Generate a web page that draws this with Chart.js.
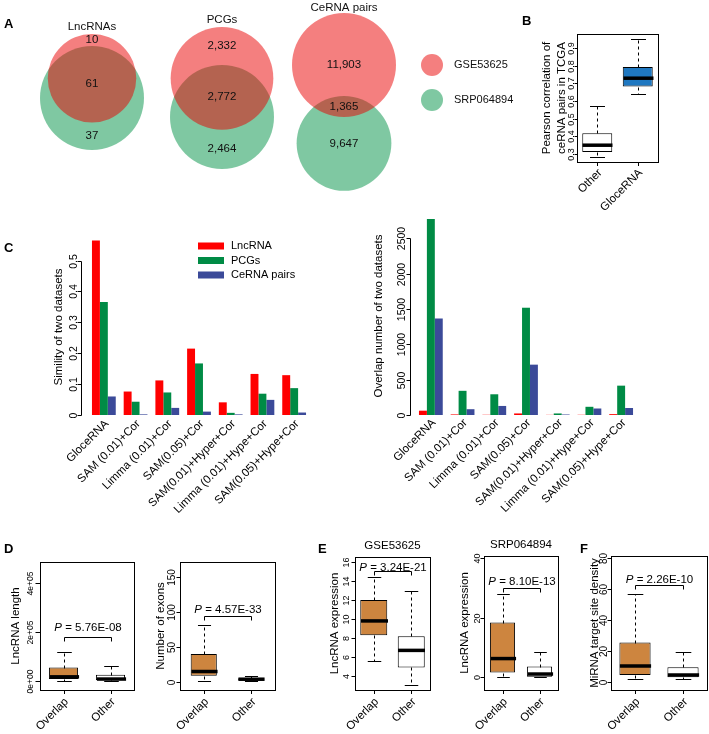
<!DOCTYPE html>
<html>
<head>
<meta charset="utf-8">
<title>GloceRNA overlap figure</title>
<script src="https://cdn.jsdelivr.net/npm/chart.js@4.4.0/dist/chart.umd.min.js"></script>
<style>
  body { margin: 0; background: #fff; }
  #wrap { position: relative; width: 709px; height: 734px; }
  #wrap canvas { position: absolute; left: 0; top: 0; }
</style>
</head>
<body>
<div id="wrap"></div>
<script>
// ---- A: Venn counts (GSE only, shared, SRP only) ----
const vennNames = ['LncRNAs', 'PCGs', 'CeRNA pairs'];
const onlyGSE = [10, 2332, 11903];
const bothSets = [61, 2772, 1365];
const onlySRP = [37, 2464, 9647];
const setNames = ['GSE53625', 'SRP064894'];

// ---- B: correlation of ceRNA pairs in TCGA (min, q1, median, q3, max) ----
const corrGroups = ['Other', 'GloceRNA'];
const corrOther = [0.283, 0.311, 0.350, 0.418, 0.570];
const corrGloce = [0.640, 0.682, 0.729, 0.792, 0.949];
const corrTicks = [0.3, 0.4, 0.5, 0.6, 0.7, 0.8, 0.9];

// ---- C: similarity / overlap of two datasets per method ----
const methods = ['GloceRNA', 'SAM (0.01)+Cor', 'Limma (0.01)+Cor', 'SAM(0.05)+Cor',
  'SAM(0.01)+Hyper+Cor', 'Limma (0.01)+Hype+Cor', 'SAM(0.05)+Hype+Cor'];
const typeNames = ['LncRNA', 'PCGs', 'CeRNA pairs'];
const simLnc = [0.565, 0.076, 0.112, 0.215, 0.041, 0.133, 0.129];
const simPcg = [0.366, 0.043, 0.073, 0.167, 0.007, 0.069, 0.087];
const simPair = [0.060, 0.002, 0.023, 0.011, 0.002, 0.049, 0.008];
const simTicks = [0, 0.1, 0.2, 0.3, 0.4, 0.5];
const ovLnc = [61, 8, 3, 22, 2, 3, 12];
const ovPcg = [2772, 342, 293, 1517, 22, 116, 415];
const ovPair = [1365, 82, 128, 712, 7, 92, 99];
const ovTicks = [0, 500, 1000, 1500, 2000, 2500];

// ---- D, E, F: box summaries (min, q1, median, q3, max) ----
const boxGroups = ['Overlap', 'Other'];
const lenOverlap = [0, 8000, 17000, 55000, 120000];
const lenOther = [0, 4000, 8000, 26000, 60000];
const lenTicks = [0, 200000, 400000];
const exonOverlap = [2, 9, 15, 40, 81];
const exonOther = [1, 2, 4, 5.5, 8];
const exonTicks = [0, 50, 100, 150];
const gseOverlap = [5.6, 8.3, 9.8, 12.0, 14.4];
const gseOther = [3.05, 4.9, 6.7, 8.2, 12.9];
const gseTicks = [4, 6, 8, 10, 12, 14, 16];
const srpOverlap = [0, 1.5, 6.2, 18.3, 27.9];
const srpOther = [0, 0.1, 1.0, 3.5, 8.3];
const srpTicks = [0, 20, 40];
const siteOverlap = [1.7, 4.5, 10.3, 25.4, 56.8];
const siteOther = [1.7, 3.0, 4.5, 9.5, 19.2];
const siteTicks = [0, 20, 40, 60, 80];
const pValues = ['5.76E-08', '4.57E-33', '3.24E-21', '8.10E-13', '2.26E-10'];

const W = 709, H = 734;
const FONT = "'Liberation Sans', Arial, Helvetica, sans-serif";
const wrap = document.getElementById('wrap');

function makeChart(config) {
  const c = document.createElement('canvas');
  c.width = W;
  c.height = H;
  wrap.appendChild(c);
  config.options = Object.assign({responsive: false, animation: false, devicePixelRatio: 1, events: []}, config.options);
  config.options.layout.autoPadding = false;
  config.options.plugins = Object.assign({legend: {display: false}, tooltip: {enabled: false}}, config.options.plugins);
  return new Chart(c, config);
}

// chart area given in page pixels (every canvas covers the whole page)
function area(l, t, r, b) {
  return {left: l, top: t, right: W - r, bottom: H - b};
}

function vtext(ctx, t, x, y) {
  ctx.save();
  ctx.translate(x, y);
  ctx.rotate(-Math.PI / 2);
  ctx.fillText(t, 0, 0);
  ctx.restore();
}

function sci(v) {
  if (v === 0) return '0e+00';
  const e = Math.floor(Math.log10(v));
  return (v / Math.pow(10, e)) + 'e+' + String(e).padStart(2, '0');
}

// R-like axes, labels, legend and p-value bracket
const rAxes = {
  id: 'rAxes',
  afterDraw(chart, args, o) {
    const {ctx, chartArea: a} = chart;
    const xs = chart.scales.x, ys = chart.scales.y;
    const L = Math.round(a.left), T = Math.round(a.top), R = Math.round(a.right), B = Math.round(a.bottom);
    ctx.save();
    ctx.fillStyle = '#000';
    ctx.strokeStyle = '#000';
    ctx.lineWidth = 1;
    if (o.box) ctx.strokeRect(L + 0.5, T + 0.5, R - L, B - T);

    // y axis
    const ax = L - (o.axisGap || 0) + 0.5;
    const ty = o.yTicks.map(v => Math.round(ys.getPixelForValue(v)) + 0.5);
    ctx.beginPath();
    ctx.moveTo(ax, ty[0]);
    ctx.lineTo(ax, ty[ty.length - 1]);
    ty.forEach(p => { ctx.moveTo(ax, p); ctx.lineTo(ax - o.tickLen, p); });
    ctx.stroke();
    ctx.font = o.tickSize + 'px ' + FONT;
    ctx.textAlign = 'center';
    ctx.textBaseline = 'alphabetic';
    o.yTicks.forEach((v, i) => vtext(ctx, o.yFmt ? o.yFmt(v) : String(v), ax - o.labelGap, ty[i]));
    ctx.font = '11.5px ' + FONT;
    o.yTitle.forEach((t, i) => vtext(ctx, t, ax - o.titleGap + i * 15, (a.top + a.bottom) / 2));

    // x labels
    chart.data.labels.forEach((lab, i) => {
      const cx = xs.getPixelForValue(i);
      if (o.xTicks) {
        ctx.beginPath();
        ctx.moveTo(Math.round(cx) + 0.5, B);
        ctx.lineTo(Math.round(cx) + 0.5, B + 4);
        ctx.stroke();
      }
      ctx.save();
      ctx.translate(cx + o.xShift, B + o.xGap);
      ctx.rotate(-Math.PI / 4);
      ctx.font = '11.5px ' + FONT;
      ctx.textAlign = 'right';
      ctx.textBaseline = 'middle';
      ctx.fillText(lab, 0, 0);
      ctx.restore();
    });

    if (o.title) {
      ctx.font = '11.5px ' + FONT;
      ctx.textAlign = 'center';
      ctx.fillText(o.title, (a.left + a.right) / 2, T - 8);
    }

    if (o.legend) {
      const g = o.legend;
      ctx.font = '11px ' + FONT;
      ctx.textAlign = 'left';
      ctx.textBaseline = 'middle';
      chart.data.datasets.forEach((ds, k) => {
        const yy = g.y + k * g.dy;
        ctx.fillStyle = ds.backgroundColor;
        ctx.fillRect(g.x, yy - g.h / 2, g.w, g.h);
        ctx.fillStyle = '#000';
        ctx.fillText(ds.label, g.x + g.w + 7, yy);
      });
    }

    if (o.p) {
      const x1 = Math.round(xs.getPixelForValue(0)) + 0.5, x2 = Math.round(xs.getPixelForValue(1)) + 0.5;
      const yb = Math.round(ys.getPixelForValue(o.p.at)) + 0.5;
      ctx.beginPath();
      ctx.moveTo(x1, yb + 4);
      ctx.lineTo(x1, yb);
      ctx.lineTo(x2, yb);
      ctx.lineTo(x2, yb + 4);
      ctx.stroke();
      const rest = ' = ' + o.p.text;
      ctx.font = 'italic 11.5px ' + FONT;
      const w1 = ctx.measureText('P').width;
      ctx.font = '11.5px ' + FONT;
      const w2 = ctx.measureText(rest).width;
      const x0 = (x1 + x2) / 2 - (w1 + w2) / 2;
      ctx.textAlign = 'left';
      ctx.textBaseline = 'alphabetic';
      ctx.font = 'italic 11.5px ' + FONT;
      ctx.fillText('P', x0, yb - o.p.gap);
      ctx.font = '11.5px ' + FONT;
      ctx.fillText(rest, x0 + w1, yb - o.p.gap);
    }

    if (o.tag) {
      ctx.font = 'bold 13px ' + FONT;
      ctx.textAlign = 'left';
      ctx.textBaseline = 'alphabetic';
      ctx.fillText(o.tag[0], o.tag[1], o.tag[2]);
    }
    ctx.restore();
  }
};

// whiskers, staples and medians on top of the floating-bar boxes
const whiskers = {
  id: 'whiskers',
  afterDatasetsDraw(chart, args, o) {
    const {ctx} = chart;
    const ys = chart.scales.y;
    const meta = chart.getDatasetMeta(0);
    o.stats.forEach((s, i) => {
      const bar = meta.data[i];
      const cx = Math.round(bar.x) + 0.5, half = bar.width / 2;
      const py = v => Math.round(ys.getPixelForValue(v)) + 0.5;
      ctx.save();
      ctx.strokeStyle = '#000';
      ctx.lineWidth = 1;
      ctx.setLineDash([3, 3]);
      ctx.beginPath();
      ctx.moveTo(cx, py(s[3])); ctx.lineTo(cx, py(s[4]));
      ctx.moveTo(cx, py(s[1])); ctx.lineTo(cx, py(s[0]));
      ctx.stroke();
      ctx.setLineDash([]);
      ctx.beginPath();
      ctx.moveTo(cx - half / 2, py(s[4])); ctx.lineTo(cx + half / 2, py(s[4]));
      ctx.moveTo(cx - half / 2, py(s[0])); ctx.lineTo(cx + half / 2, py(s[0]));
      ctx.stroke();
      ctx.lineWidth = 3.5;
      ctx.beginPath();
      ctx.moveTo(cx - half, ys.getPixelForValue(s[2])); ctx.lineTo(cx + half, ys.getPixelForValue(s[2]));
      ctx.stroke();
      ctx.restore();
    });
  }
};

function boxChart(cfg) {
  return makeChart({
    type: 'bar',
    data: {
      labels: cfg.groups,
      datasets: [{
        data: cfg.stats.map(s => [s[1], s[3]]),
        backgroundColor: cfg.fills,
        borderColor: '#000',
        borderWidth: 1,
        borderSkipped: false,
        categoryPercentage: 1,
        barPercentage: cfg.boxWidth
      }]
    },
    options: {
      layout: {padding: cfg.area},
      scales: {x: {display: false}, y: {display: false, min: cfg.yMin, max: cfg.yMax}},
      plugins: {whiskers: {stats: cfg.stats}, rAxes: cfg.axes}
    },
    plugins: [whiskers, rAxes]
  });
}

// ---------- A: Venn diagrams ----------
const VENN_R = 52;
const vennX = [92, 222, 344];
const vennTop = [34, 27, 13];
const keyX = 432, keyY = [65, 100], keyR = 11;
const redFill = 'rgba(233, 0, 0, 0.5)';
const greenFill = 'rgba(0, 145, 70, 0.5)';

function lens(r1, r2, d) {
  if (d >= r1 + r2) return 0;
  if (d <= Math.abs(r1 - r2)) return Math.PI * Math.min(r1, r2) ** 2;
  const p = r1 * r1 * Math.acos((d * d + r1 * r1 - r2 * r2) / (2 * d * r1));
  const q = r2 * r2 * Math.acos((d * d + r2 * r2 - r1 * r1) / (2 * d * r2));
  const k = 0.5 * Math.sqrt((-d + r1 + r2) * (d + r1 - r2) * (d - r1 + r2) * (d + r1 + r2));
  return p + q - k;
}

function centreGap(r1, r2, target) {
  let lo = Math.abs(r1 - r2), hi = r1 + r2;
  for (let i = 0; i < 60; i++) {
    const mid = (lo + hi) / 2;
    if (lens(r1, r2, mid) > target) lo = mid; else hi = mid;
  }
  return (lo + hi) / 2;
}

const venn = vennNames.map((name, i) => {
  const tA = onlyGSE[i] + bothSets[i], tB = onlySRP[i] + bothSets[i];
  const big = Math.max(tA, tB);
  const rA = VENN_R * Math.sqrt(tA / big), rB = VENN_R * Math.sqrt(tB / big);
  const d = centreGap(rA, rB, Math.PI * VENN_R * VENN_R * bothSets[i] / big);
  const yA = vennTop[i] + rA;
  return {x: vennX[i], yA: yA, yB: yA + d, rA: rA, rB: rB};
});

const vennText = {
  id: 'vennText',
  afterDatasetsDraw(chart) {
    const {ctx} = chart;
    const xs = chart.scales.x, ys = chart.scales.y;
    const fmt = n => n.toLocaleString('en-US');
    ctx.save();
    ctx.fillStyle = '#111';
    ctx.textAlign = 'center';
    ctx.textBaseline = 'middle';
    ctx.font = '11.5px ' + FONT;
    venn.forEach((v, i) => {
      const topA = v.yA - v.rA, botA = v.yA + v.rA, topB = v.yB - v.rB, botB = v.yB + v.rB;
      const yOnlyA = topB < v.yA ? (topA + topB) / 2 : v.yA;
      const yOnlyB = botA > v.yB ? (botA + botB) / 2 : v.yB;
      const px = xs.getPixelForValue(v.x);
      ctx.fillText(vennNames[i], px, ys.getPixelForValue(Math.max(topA - 7, 8)));
      ctx.fillText(fmt(onlyGSE[i]), px, ys.getPixelForValue(yOnlyA));
      ctx.fillText(fmt(bothSets[i]), px, ys.getPixelForValue((topB + botA) / 2));
      ctx.fillText(fmt(onlySRP[i]), px, ys.getPixelForValue(yOnlyB));
    });
    ctx.textAlign = 'left';
    ctx.font = '11px ' + FONT;
    setNames.forEach((n, k) => ctx.fillText(n, xs.getPixelForValue(keyX + 22), ys.getPixelForValue(keyY[k])));
    ctx.font = 'bold 13px ' + FONT;
    ctx.fillStyle = '#000';
    ctx.textBaseline = 'alphabetic';
    ctx.fillText('A', 4, 28);
    ctx.restore();
  }
};

makeChart({
  type: 'bubble',
  data: {
    datasets: [
      {data: venn.map(v => ({x: v.x, y: v.yA, r: v.rA})).concat([{x: keyX, y: keyY[0], r: keyR}]),
       backgroundColor: redFill, borderWidth: 0},
      {data: venn.map(v => ({x: v.x, y: v.yB, r: v.rB})).concat([{x: keyX, y: keyY[1], r: keyR}]),
       backgroundColor: greenFill, borderWidth: 0}
    ]
  },
  options: {
    layout: {padding: 0},
    scales: {
      x: {type: 'linear', display: false, min: 0, max: W},
      y: {type: 'linear', display: false, min: 0, max: H, reverse: true}
    }
  },
  plugins: [vennText]
});

// ---------- B ----------
boxChart({
  groups: corrGroups, stats: [corrOther, corrGloce], fills: ['#ffffff', '#1f78c1'], boxWidth: 0.74,
  area: area(577, 34, 658, 162), yMin: 0.255, yMax: 0.979,
  axes: {box: true, yTicks: corrTicks, tickLen: 3, tickSize: 9, labelGap: 4,
    yTitle: ['Pearson correlation of', 'ceRNA pairs in TCGA'], titleGap: 28,
    xTicks: true, xShift: 3, xGap: 9, tag: ['B', 522, 25]}
});

// ---------- C ----------
const typeColors = ['#ff0000', '#008b45', '#3b4a99'];
function methodBars(series, yMax, chartArea, axes) {
  return makeChart({
    type: 'bar',
    data: {
      labels: methods,
      datasets: series.map((vals, k) => ({
        label: typeNames[k], data: vals, backgroundColor: typeColors[k],
        borderWidth: 0, categoryPercentage: 0.75, barPercentage: 1
      }))
    },
    options: {
      layout: {padding: chartArea},
      scales: {x: {display: false}, y: {display: false, min: 0, max: yMax}},
      plugins: {rAxes: axes}
    },
    plugins: [rAxes]
  });
}

methodBars([simLnc, simPcg, simPair], 0.57, area(88, 239, 310, 415), {
  axisGap: 7, yTicks: simTicks, tickLen: 4, tickSize: 10.5, labelGap: 5,
  yTitle: ['Simility of two datasets'], titleGap: 20, xShift: 3, xGap: 7,
  legend: {x: 198, y: 246, dy: 14.5, w: 26, h: 7}, tag: ['C', 4, 252]
});

methodBars([ovLnc, ovPcg, ovPair], 2800, area(415, 217, 637, 415), {
  axisGap: 5, yTicks: ovTicks, tickLen: 4, tickSize: 10.5, labelGap: 6,
  yTitle: ['Overlap number of two datasets'], titleGap: 29, xShift: 3, xGap: 6
});

// ---------- D ----------
const boxFills = ['#cd853f', '#ffffff'];
boxChart({
  groups: boxGroups, stats: [lenOverlap, lenOther], fills: boxFills, boxWidth: 0.62,
  area: area(40, 562, 134, 690), yMin: -36700, yMax: 485700,
  axes: {box: true, yTicks: lenTicks, yFmt: sci, tickLen: 5, tickSize: 8.5, labelGap: 8,
    yTitle: ['LncRNA length'], titleGap: 22, xTicks: true, xShift: 3, xGap: 10,
    p: {text: pValues[0], at: 180000, gap: 7}, tag: ['D', 4, 553]}
});

boxChart({
  groups: boxGroups, stats: [exonOverlap, exonOther], fills: boxFills, boxWidth: 0.55,
  area: area(180, 562, 275, 690), yMin: -11.4, yMax: 171.4,
  axes: {box: true, yTicks: exonTicks, tickLen: 4, tickSize: 10, labelGap: 6,
    yTitle: ['Number of exons'], titleGap: 17, xTicks: true, xShift: 3, xGap: 10,
    p: {text: pValues[1], at: 94, gap: 4}}
});

// ---------- E ----------
boxChart({
  groups: boxGroups, stats: [gseOverlap, gseOther], fills: boxFills, boxWidth: 0.72,
  area: area(355, 557, 430, 690), yMin: 2.53, yMax: 16.53,
  axes: {box: true, yTicks: gseTicks, tickLen: 4, tickSize: 9, labelGap: 7,
    yTitle: ['LncRNA expression'], titleGap: 18, xTicks: true, xShift: 3, xGap: 10,
    title: 'GSE53625', p: {text: pValues[2], at: 15.05, gap: 1}, tag: ['E', 318, 553]}
});

boxChart({
  groups: boxGroups, stats: [srpOverlap, srpOther], fills: boxFills, boxWidth: 0.68,
  area: area(484, 556, 558, 690), yMin: -4.37, yMax: 40.7,
  axes: {box: true, yTicks: srpTicks, tickLen: 4, tickSize: 9, labelGap: 5,
    yTitle: ['LncRNA expression'], titleGap: 17, xTicks: true, xShift: 3, xGap: 10,
    title: 'SRP064894', p: {text: pValues[3], at: 29.9, gap: 4}}
});

// ---------- F ----------
boxChart({
  groups: boxGroups, stats: [siteOverlap, siteOther], fills: boxFills, boxWidth: 0.65,
  area: area(611, 556, 707, 690), yMin: -5.2, yMax: 81.3,
  axes: {box: true, yTicks: siteTicks, tickLen: 4, tickSize: 10, labelGap: 5,
    yTitle: ['MiRNA target site density'], titleGap: 14, xTicks: true, xShift: 3, xGap: 10,
    p: {text: pValues[4], at: 62.6, gap: 3}, tag: ['F', 580, 553]}
});
</script>
</body>
</html>
